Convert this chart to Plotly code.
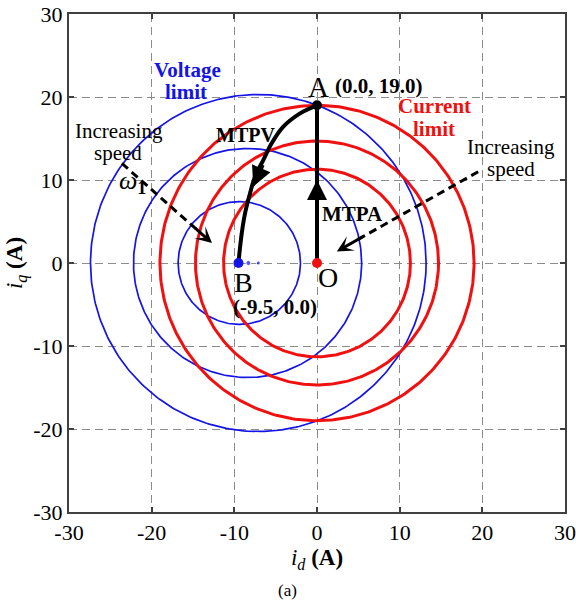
import numpy as np
import plotly.graph_objects as go

FONT = "Liberation Serif"
RED = "#f01010"
BLUE = "#1414e6"

# Current-limit circles, centred on the origin
current_radius = [11.3, 14.7, 19.0]

# Voltage-limit circles: centre on the d-axis and radius for three speeds
voltage_center_d = [-9.4, -8.4, -7.1]
voltage_radius = [7.4, 13.8, 20.3]

# MTPV trajectory from A down to B
mtpv_id = [0.0, -2.1, -4.1, -5.5, -6.5, -7.5, -8.1, -8.7, -9.1, -9.35, -9.5]
mtpv_iq = [19.0, 18.0, 16.4, 14.4, 12.4, 10.4, 8.4, 6.0, 3.6, 1.5, 0.0]

# MTPA trajectory from O up to A
mtpa_id = [0.0, 0.0]
mtpa_iq = [0.0, 19.0]

point_a = (0.0, 19.0)
point_b = (-9.5, 0.0)
point_o = (0.0, 0.0)
b_trail_id = [-8.3, -7.1]
b_trail_size = [5, 4]

# "Increasing speed" arrows: tail, head
speed_arrow_left = [(-23.6, 12.0), (-12.7, 2.4)]
speed_arrow_right = [(19.5, 11.0), (2.4, 1.4)]

# arrowheads on the trajectories: tail, tip
mtpa_head = [(0.0, 7.0), (0.0, 10.0)]
mtpv_head = [(-6.5, 12.0), (-7.7, 9.2)]

ticks = [-30, -20, -10, 0, 10, 20, 30]
tick_text = ["-30", "-20", "-10", "0", "10", "20", "30"]

theta = np.linspace(0, 2 * np.pi, 361)

fig = go.Figure()

for cd, r in zip(voltage_center_d, voltage_radius):
    fig.add_trace(go.Scatter(
        x=cd + r * np.cos(theta), y=r * np.sin(theta), mode="lines",
        line=dict(color=BLUE, width=1.7), hoverinfo="skip"))

for r in current_radius:
    fig.add_trace(go.Scatter(
        x=r * np.cos(theta), y=r * np.sin(theta), mode="lines",
        line=dict(color=RED, width=3), hoverinfo="skip"))

# MTPV and MTPA trajectories
fig.add_trace(go.Scatter(x=mtpv_id, y=mtpv_iq, mode="lines",
                         line=dict(color="black", width=4, shape="spline")))
fig.add_trace(go.Scatter(x=mtpa_id, y=mtpa_iq, mode="lines",
                         line=dict(color="black", width=4)))

# dashed "increasing speed" shafts
def shaft(arrow, frac=0.85):
    (x0, y0), (x1, y1) = arrow
    return [x0, x0 + frac * (x1 - x0)], [y0, y0 + frac * (y1 - y0)]

for arr in (speed_arrow_left, speed_arrow_right):
    sx, sy = shaft(arr)
    fig.add_trace(go.Scatter(x=sx, y=sy, mode="lines",
                             line=dict(color="black", width=3, dash="8px,5px")))

# operating points
fig.add_trace(go.Scatter(x=b_trail_id, y=[0, 0], mode="markers",
                         marker=dict(color=BLUE, size=b_trail_size)))
fig.add_trace(go.Scatter(x=[point_b[0]], y=[point_b[1]], mode="markers",
                         marker=dict(color=BLUE, size=10)))
fig.add_trace(go.Scatter(x=[point_o[0]], y=[point_o[1]], mode="markers",
                         marker=dict(color=RED, size=10)))
fig.add_trace(go.Scatter(x=[point_a[0]], y=[point_a[1]], mode="markers",
                         marker=dict(color="black", size=10)))

annotations = []

def arrowhead(arrow, style, width, size):
    (tx, ty), (hx, hy) = arrow
    annotations.append(dict(
        x=hx, y=hy, ax=tx, ay=ty, xref="x", yref="y", axref="x", ayref="y",
        text="", showarrow=True, arrowhead=style, arrowwidth=width,
        arrowsize=size, arrowcolor="black"))

arrowhead(mtpa_head, 2, 4, 1.0)
arrowhead(mtpv_head, 2, 4, 1.0)

for arr in (speed_arrow_left, speed_arrow_right):
    (x0, y0), (x1, y1) = arr
    tail = (x0 + 0.8 * (x1 - x0), y0 + 0.8 * (y1 - y0))
    arrowhead([tail, (x1, y1)], 3, 3, 0.9)

def label(x, y, text, size=22, color="black", bold=False, italic=False):
    if bold:
        text = f"<b>{text}</b>"
    if italic:
        text = f"<i>{text}</i>"
    annotations.append(dict(
        x=x, y=y, xref="x", yref="y", text=text, showarrow=False,
        xanchor="center", yanchor="middle",
        font=dict(family=FONT, size=size, color=color)))

label(-15.7, 23.25, "Voltage", 21, BLUE, bold=True)
label(-15.8, 20.6, "limit", 21, BLUE, bold=True)
label(14.2, 18.86, "Current", 21, RED, bold=True)
label(14.2, 16.2, "limit", 21, RED, bold=True)

label(0.2, 21.2, "A", 29)
label(7.5, 21.3, f"({point_a[0]:.1f}, {point_a[1]:.1f})", 21, bold=True)
label(-8.9, -2.3, "B", 28)
label(-5.1, -5.3, f"({point_b[0]:.1f}, {point_b[1]:.1f})", 21, bold=True)
label(1.3, -1.8, "O", 28)

label(-8.7, 15.4, "MTPV", 20, bold=True)
label(4.3, 5.9, "MTPA", 21, bold=True)

label(-24.0, 15.96, "Increasing", 21)
label(-24.1, 13.31, "speed", 21)
label(23.5, 13.98, "Increasing", 21)
label(23.5, 11.33, "speed", 21)
label(-22.3, 9.8, "<i>ω</i><sub><b>1</b></sub>", 26)

annotations.append(dict(
    x=0.4415, y=-0.157, xref="paper", yref="paper", text="(a)",
    showarrow=False, xanchor="center", yanchor="middle",
    font=dict(family=FONT, size=17, color="black")))

axis_common = dict(
    range=[-30, 30], tickvals=ticks, ticktext=tick_text, showgrid=True,
    gridcolor="#8c8c8c", gridwidth=1.3, griddash="8px,5px", zeroline=False,
    showline=True, linecolor="#404040", linewidth=2, mirror="ticks",
    ticks="inside", ticklen=5, tickwidth=2, tickcolor="#404040",
    automargin=False, tickfont=dict(family=FONT, size=22, color="black"))

fig.update_layout(
    width=576, height=603,
    margin=dict(l=69, r=11, t=14, b=91),
    paper_bgcolor="white", plot_bgcolor="white",
    showlegend=False,
    annotations=annotations,
    xaxis=dict(**axis_common,
               title=dict(text="<i>i</i><sub><i>d</i></sub> <b>(A)</b>",
                          font=dict(family=FONT, size=23, color="black"),
                          standoff=4)),
    yaxis=dict(**axis_common,
               title=dict(text="<i>i</i><sub><i>q</i></sub> <b>(A)</b>",
                          font=dict(family=FONT, size=23, color="black"),
                          standoff=4)),
)

fig.write_html("out.html")
